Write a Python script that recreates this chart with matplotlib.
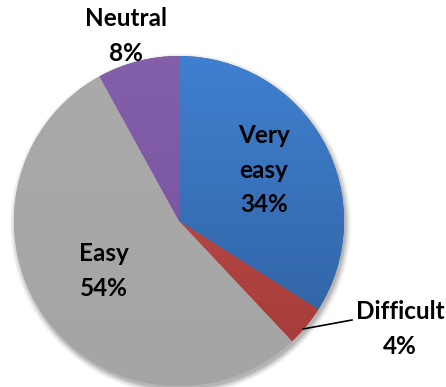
import numpy as np
import matplotlib.pyplot as plt
from matplotlib.colors import to_rgb

categories = ["Very\neasy", "Difficult", "Easy", "Neutral"]
shares = [34, 4, 54, 8]
# top / bottom shades of each slice's vertical gradient
top_colors = ["#3f80d0", "#c9514d", "#aaaaaa", "#8460aa"]
bottom_colors = ["#2f5e9c", "#a13a37", "#a5a5a5", "#734f9a"]

W, H = 446, 387
R_PX = 165.0
CX, CY = 179.0, 221.0


def px(x, y):
    # pixel position -> data units (pie radius = 1)
    return (x - CX) / R_PX, (CY - y) / R_PX


plt.rcParams['font.family'] = ['Lato', 'DejaVu Sans']
fig = plt.figure(figsize=(W / 100, H / 100), dpi=100)
ax = fig.add_axes([0, 0, 1, 1])
ax.axis('off')

# soft shadow under the pie
for k, a in zip(np.linspace(1.035, 1.0, 8), np.linspace(0.02, 0.06, 8)):
    ax.add_patch(plt.Circle((0.01, -0.02), k, color='black', alpha=a, lw=0, zorder=0))

wedges, _ = ax.pie(shares, startangle=90, counterclock=False, radius=1,
                   wedgeprops=dict(linewidth=0, edgecolor='none'))

ys = np.linspace(1, 0, 200)[:, None, None]
for w, c0, c1 in zip(wedges, top_colors, bottom_colors):
    c0, c1 = np.array(to_rgb(c0)), np.array(to_rgb(c1))
    grad = c0[None, None, :] * ys + c1[None, None, :] * (1 - ys)
    grad = np.repeat(grad, 2, axis=1)
    w.set_facecolor(c1)
    im = ax.imshow(grad, extent=(-1, 1, -1, 1), origin='upper',
                   aspect='auto', interpolation='bilinear', zorder=2)
    im.set_clip_path(w)

label_pos = [(264, 170), (400, 329), (104, 271), (126, 36)]
style = dict(fontsize=17.5, fontweight='bold', color='black',
             ha='center', va='center', linespacing=1.6, zorder=5)
for name, val, (x, y) in zip(categories, shares, label_pos):
    tx, ty = px(x, y)
    ax.text(tx, ty, f"{name}\n{val}%", **style)

# leader line for the small slice
(x0, y0), (x1, y1) = px(303, 329), px(352, 320)
ax.plot([x0, x1], [y0, y1], color='black', lw=1.2, zorder=5)

ax.set_xlim(-CX / R_PX, (W - CX) / R_PX)
ax.set_ylim(-(H - CY) / R_PX, CY / R_PX)
ax.set_aspect('equal')

fig.savefig("out.png", dpi=100)
